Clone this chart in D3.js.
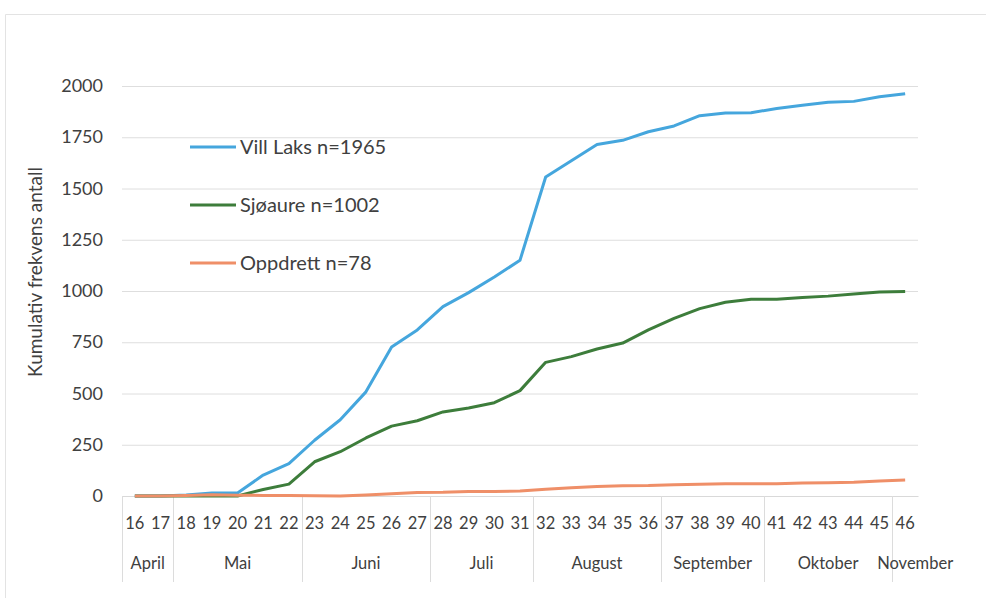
<!DOCTYPE html>
<html>
<head>
<meta charset="utf-8">
<script src="https://cdn.jsdelivr.net/npm/d3@7"></script>
<style>
  body { margin: 0; background: #fff; }
  svg { display: block; }
  text { font-family: Lato, "Open Sans", sans-serif; fill: #404040; }
</style>
</head>
<body>
<svg id="chart"></svg>
<script>
// weeks on the x axis
const weeks = d3.range(16, 47).map(String)
// month groups: [name, first week, last week]
const months = [
  ["April", "16", "17"], ["Mai", "18", "22"], ["Juni", "23", "27"], ["Juli", "28", "31"],
  ["August", "32", "36"], ["September", "37", "40"], ["Oktober", "41", "45"], ["November", "46", "46"]
]
const yTicks = [0, 250, 500, 750, 1000, 1250, 1500, 1750, 2000]

const villLaks = [0, 0, 5, 15, 15, 102, 158, 272, 372, 508, 727, 810, 924, 992, 1068, 1150,
  1556, 1635, 1715, 1735, 1777, 1805, 1855, 1868, 1870, 1890, 1906, 1921, 1925, 1948, 1962]
const sjoaure = [0, 0, 0, 0, 0, 32, 58, 167, 216, 283, 341, 367, 410, 429, 455, 514,
  652, 680, 717, 746, 810, 866, 914, 945, 960, 960, 968, 975, 985, 995, 997]
const oppdrett = [0, 0, 3, 6, 4, 3, 2, 1, 0, 5, 11, 17, 18, 22, 22, 24,
  33, 40, 46, 50, 51, 55, 57, 60, 60, 60, 63, 65, 67, 73, 78]

const series = [
  { name: "Vill Laks n=1965", values: villLaks, color: "#45a6dd" },
  { name: "Sjøaure n=1002", values: sjoaure, color: "#3d7d3b" },
  { name: "Oppdrett n=78", values: oppdrett, color: "#ef8f68" }
]

const width = 987, height = 599
const margin = { left: 122, right: 69, top: 86, bottom: 103 }
const innerWidth = width - margin.left - margin.right
const innerHeight = height - margin.top - margin.bottom

const svg = d3.select("#chart").attr("width", width).attr("height", height)

// outer frame: top and left edges
svg.append("line").attr("x1", 5.5).attr("x2", width - 1).attr("y1", 14.5).attr("y2", 14.5)
  .attr("stroke", "#e3e3e3")
svg.append("line").attr("x1", 5.5).attr("x2", 5.5).attr("y1", 14.5).attr("y2", height - 1)
  .attr("stroke", "#e3e3e3")

const group = svg.append("g").attr("transform", `translate(${margin.left}, ${margin.top})`)

const x_scale = d3.scaleBand().domain(weeks).range([0, innerWidth])
const y_scale = d3.scaleLinear().domain([0, 2000]).range([innerHeight, 0])

// gridlines
group.selectAll(".grid").data(yTicks.slice(1)).join("line").attr("class", "grid")
  .attr("x1", 0).attr("x2", innerWidth)
  .attr("y1", d => y_scale(d) + 0.5).attr("y2", d => y_scale(d) + 0.5)
  .attr("stroke", "#dedede").attr("stroke-width", 1)

// x axis baseline
const xAxis = group.append("g").attr("transform", `translate(0, ${innerHeight})`)
  .call(d3.axisBottom(x_scale).tickSize(0).tickFormat(""))
xAxis.select(".domain").attr("stroke", "#d9d9d9")

// y tick labels
group.selectAll(".ylab").data(yTicks).join("text").attr("class", "ylab")
  .attr("x", -19).attr("y", d => y_scale(d) + 6)
  .attr("text-anchor", "end").attr("font-size", 18)
  .text(d3.format("d"))

// week labels
group.selectAll(".wlab").data(weeks).join("text").attr("class", "wlab")
  .attr("x", d => x_scale(d) + x_scale.bandwidth() / 2).attr("y", innerHeight + 33)
  .attr("text-anchor", "middle").attr("font-size", 16.5)
  .text(d => d)

// month separators and labels
const bounds = months.map(m => x_scale(m[1]))
group.selectAll(".sep").data(bounds).join("line").attr("class", "sep")
  .attr("x1", d => Math.round(d) + 0.5).attr("x2", d => Math.round(d) + 0.5)
  .attr("y1", innerHeight).attr("y2", innerHeight + 86)
  .attr("stroke", "#dcdcdc")

group.selectAll(".month").data(months).join("text").attr("class", "month")
  .attr("x", d => (x_scale(d[1]) + x_scale(d[2]) + x_scale.bandwidth()) / 2 + (d[0] === "November" ? 10 : 0))
  .attr("y", innerHeight + 73)
  .attr("text-anchor", "middle").attr("font-size", 16.5)
  .text(d => d[0])

// lines
const line = d3.line().x((d, i) => x_scale(weeks[i]) + x_scale.bandwidth() / 2).y(d => y_scale(d))
group.selectAll(".series").data(series).join("path").attr("class", "series")
  .attr("d", d => line(d.values))
  .attr("fill", "none").attr("stroke", d => d.color).attr("stroke-width", 3)
  .attr("stroke-linejoin", "round")

// legend
const legend = svg.selectAll(".legend").data(series).join("g").attr("class", "legend")
  .attr("transform", (d, i) => `translate(190, ${[147, 205, 263][i]})`)
legend.append("line").attr("x1", 0).attr("x2", 46).attr("y1", 0).attr("y2", 0)
  .attr("stroke", d => d.color).attr("stroke-width", 3)
legend.append("text").attr("x", 50).attr("y", 7).attr("font-size", 20).text(d => d.name)

// y axis title
svg.append("text").attr("transform", "translate(42, 272) rotate(-90)")
  .attr("text-anchor", "middle").attr("font-size", 19).text("Kumulativ frekvens antall")
</script>
</body>
</html>
